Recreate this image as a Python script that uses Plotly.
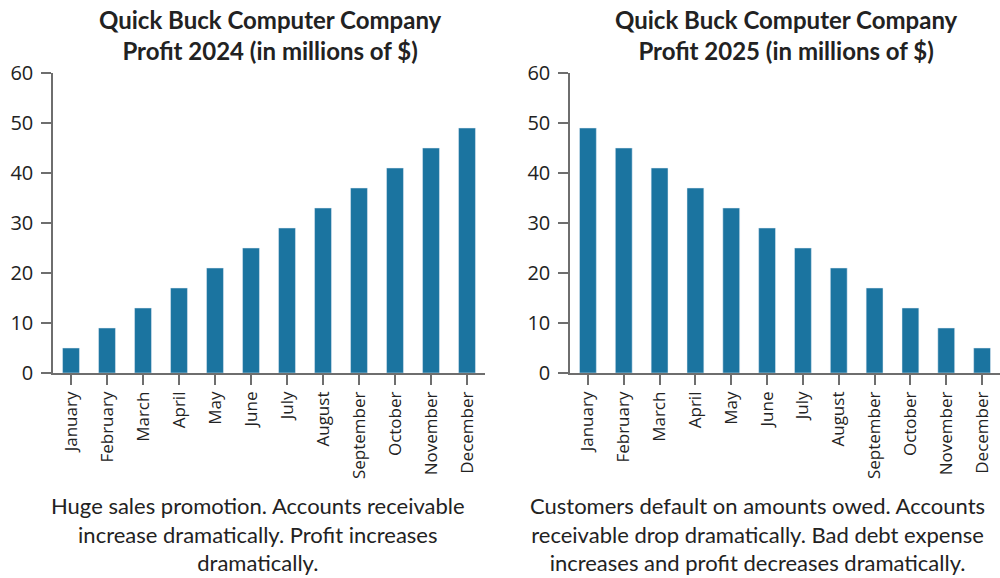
import plotly.graph_objects as go

months = ["January", "February", "March", "April", "May", "June", "July",
          "August", "September", "October", "November", "December"]
profit_2024 = [5, 9, 13, 17, 21, 25, 29, 33, 37, 41, 45, 49]
profit_2025 = [49, 45, 41, 37, 33, 29, 25, 21, 17, 13, 9, 5]

titles = [
    "Quick Buck Computer Company<br>Profit 2024 (in millions of $)",
    "Quick Buck Computer Company<br>Profit 2025 (in millions of $)",
]
captions = [
    "Huge sales promotion. Accounts receivable<br>increase dramatically. Profit increases<br>dramatically.",
    "Customers default on amounts owed. Accounts<br>receivable drop dramatically. Bad debt expense<br>increases and profit decreases dramatically.",
]
y_ticks = [0, 10, 20, 30, 40, 50, 60]

BAR = "#1b74a0"
AXIS = "#6e6e6e"
TXT = "#222222"
TICK_FONT = dict(family="Open Sans", size=20, color=TXT)
MONTH_FONT = dict(family="Open Sans", size=17, color=TXT)
TEXT_FAMILY = "Lato"

fig = go.Figure()
fig.add_trace(go.Bar(x=months, y=profit_2024, marker_color=BAR, xaxis="x", yaxis="y"))
fig.add_trace(go.Bar(x=months, y=profit_2025, marker_color=BAR, xaxis="x2", yaxis="y2"))

W, H = 1000, 578
ml, mr, mt, mb = 53, 0, 73, 205
pw = W - ml - mr
dom_left = [0, (485 - ml) / pw]
dom_right = [(570 - ml) / pw, 1]


def xax(domain, anchor):
    return dict(domain=domain, anchor=anchor, type="category", showline=True,
                linecolor=AXIS, linewidth=1.5, ticks="outside", ticklen=10,
                tickcolor=AXIS, tickwidth=1.5, tickangle=-90, tickfont=MONTH_FONT,
                showgrid=False, zeroline=False, fixedrange=True)


def yax(anchor):
    return dict(anchor=anchor, range=[0, 60], tickvals=y_ticks, showline=True,
                linecolor=AXIS, linewidth=1.5, ticks="outside", ticklen=10,
                tickcolor=AXIS, tickwidth=1.5, tickfont=TICK_FONT, showgrid=False,
                ticklabelstandoff=4, zeroline=False, fixedrange=True)


fig.update_layout(
    width=W, height=H,
    margin=dict(l=ml, r=mr, t=mt, b=mb),
    paper_bgcolor="white", plot_bgcolor="white",
    showlegend=False, bargap=0.53,
    xaxis=xax(dom_left, "y"), yaxis=yax("x"),
    xaxis2=xax(dom_right, "y2"), yaxis2=yax("x2"),
)

# Titles above each panel
for cx, t in zip([270, 786], titles):
    fig.add_annotation(x=(cx - ml) / pw, y=1, xref="paper", yref="paper",
                       yshift=mt - 3, xanchor="center", yanchor="top",
                       text="<b>" + t + "</b>", showarrow=False, align="center",
                       font=dict(family=TEXT_FAMILY, size=24, color=TXT))

# Captions below each panel
for cx, c in zip([258, 757], captions):
    fig.add_annotation(x=(cx - ml) / pw, y=0, xref="paper", yref="paper",
                       yshift=-(490 - (H - mb)), xanchor="center", yanchor="top",
                       text=c, showarrow=False, align="center",
                       font=dict(family=TEXT_FAMILY, size=22, color=TXT))

fig.write_html("out.html")
